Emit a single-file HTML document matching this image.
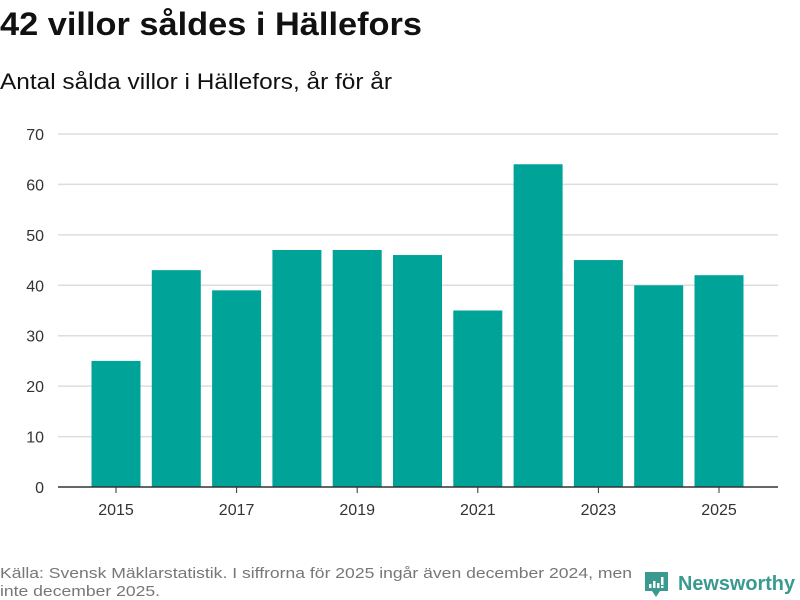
<!DOCTYPE html>
<html><head><meta charset="utf-8"><style>
html,body{margin:0;padding:0;background:#fff;}
svg{display:block;font-family:"Liberation Sans",sans-serif;}
</style></head><body>
<svg id="chart" width="800" height="600" viewBox="0 0 800 600">
<text x="0" y="35" font-size="32" font-weight="bold" fill="#111" textLength="422" lengthAdjust="spacingAndGlyphs">42 villor såldes i Hällefors</text>
<text x="0" y="89" font-size="22" fill="#111" textLength="392" lengthAdjust="spacingAndGlyphs">Antal sålda villor i Hällefors, år för år</text>
<g id="grid"></g>
<g id="bars"></g>
<g id="xlabels"></g>
<line x1="58" x2="778" y1="487" y2="487" stroke="#333" stroke-width="1.5"/>
<text x="0" y="578" font-size="15" fill="#777" textLength="632" lengthAdjust="spacingAndGlyphs">Källa: Svensk Mäklarstatistik. I siffrorna för 2025 ingår även december 2024, men</text>
<text x="0" y="596" font-size="15" fill="#777" textLength="160" lengthAdjust="spacingAndGlyphs">inte december 2025.</text>
<g>
<path d="M645 572 h23 v19 h-8 l-4 6 l-4 -6 h-7 z" fill="#3a9a8f"/>
<rect x="649" y="584" width="2.5" height="4" fill="#fff"/>
<rect x="653" y="581" width="2.5" height="7" fill="#fff"/>
<rect x="657" y="583" width="2.5" height="5" fill="#fff"/>
<rect x="661" y="577" width="2.5" height="8" fill="#fff"/>
<rect x="661" y="586" width="2.5" height="2" fill="#fff"/>
<text x="678" y="590" font-size="20" font-weight="bold" fill="#3a9a8f" textLength="117" lengthAdjust="spacingAndGlyphs">Newsworthy</text>
</g>
</svg>
<script>
const years = [2015,2016,2017,2018,2019,2020,2021,2022,2023,2024,2025];
const values = [25,43,39,47,47,46,35,64,45,40,42];
const yTicks = [0,10,20,30,40,50,60,70];
const xTickYears = [2015,2017,2019,2021,2023,2025];
const NS='http://www.w3.org/2000/svg';
const y0=487, yTop=134, yMax=70;
function yScale(v){return y0-(v/yMax)*(y0-yTop);}
const firstX=116, step=60.3;
function xScale(yr){return firstX+(yr-years[0])*step;}
const bw=49;
const grid=document.getElementById('grid');
yTicks.forEach(t=>{
  const y=yScale(t);
  if(t>0){
    const l=document.createElementNS(NS,'line');
    l.setAttribute('x1',58);l.setAttribute('x2',778);
    l.setAttribute('y1',y);l.setAttribute('y2',y);
    l.setAttribute('stroke','#ddd');l.setAttribute('stroke-width','1.5');
    
    
    grid.appendChild(l);
  }
  const tx=document.createElementNS(NS,'text');
  tx.setAttribute('x',44);tx.setAttribute('y',y+6);
  tx.setAttribute('text-anchor','end');tx.setAttribute('font-size','16');tx.setAttribute('fill','#333');
  tx.textContent=t;
  
  
  grid.appendChild(tx);
});
const bars=document.getElementById('bars');
years.forEach((yr,i)=>{
  const r=document.createElementNS(NS,'rect');
  const y=yScale(values[i]);
  r.setAttribute('x',xScale(yr)-bw/2);r.setAttribute('y',y);
  r.setAttribute('width',bw);r.setAttribute('height',y0-y);
  r.setAttribute('fill','#00a398');
  
  
  bars.appendChild(r);
});
const xl=document.getElementById('xlabels');
xTickYears.forEach(yr=>{
  const x=xScale(yr);
  const l=document.createElementNS(NS,'line');
  l.setAttribute('x1',x);l.setAttribute('x2',x);l.setAttribute('y1',487);l.setAttribute('y2',493);
  l.setAttribute('stroke','#333');
  
  
  xl.appendChild(l);
  const t=document.createElementNS(NS,'text');
  t.setAttribute('x',x);t.setAttribute('y',515);
  t.setAttribute('text-anchor','middle');t.setAttribute('font-size','16');t.setAttribute('fill','#333');
  t.textContent=yr;
  
  
  xl.appendChild(t);
});
</script>
</body></html>
